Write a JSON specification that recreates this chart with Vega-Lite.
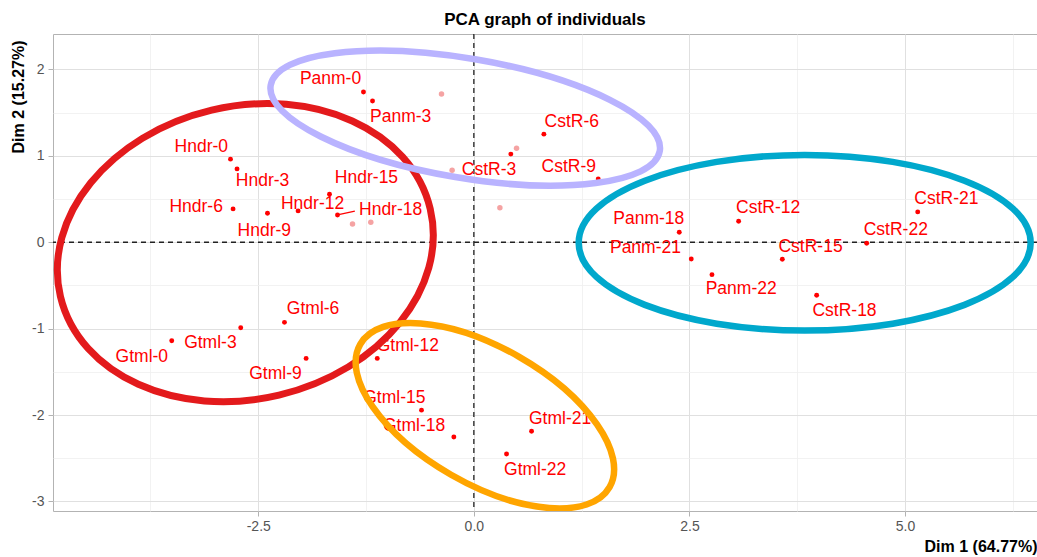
{
  "$schema": "https://vega.github.io/schema/vega-lite/v6.json",
  "width": 984,
  "height": 477,
  "autosize": {"type": "none"},
  "padding": {"left": 53, "top": 34, "right": 0, "bottom": 46},
  "background": "#FFFFFF",
  "title": {"text": "PCA graph of individuals", "fontSize": 17, "font": "Liberation Sans", "fontWeight": "bold", "color": "#000000", "anchor": "middle", "frame": "group", "baseline": "bottom", "offset": 8, "dy": 21},
  "config": {
    "font": "Liberation Sans",
    "view": {"stroke": "#B3B3B3", "strokeWidth": 1},
    "axis": {"domain": false, "labelFont": "Liberation Sans", "labelFontSize": 14, "labelColor": "#555555", "tickColor": "#B3B3B3", "tickSize": 5, "labelPadding": 3, "titleFont": "Liberation Sans", "titleFontSize": 16, "titleFontWeight": "bold", "titleColor": "#000000"}
  },
  "datasets": {
    "ind": [
      {"name": "Panm-0", "x": -1.28, "y": 1.738, "lx": -1.662, "ly": 1.889},
      {"name": "Panm-3", "x": -1.175, "y": 1.634, "lx": -0.849, "ly": 1.455},
      {"name": "Hndr-0", "x": -2.822, "y": 0.962, "lx": -3.16, "ly": 1.10},
      {"name": "Hndr-3", "x": -2.746, "y": 0.849, "lx": -2.45, "ly": 0.71},
      {"name": "Hndr-6", "x": -2.792, "y": 0.386, "lx": -3.22, "ly": 0.41},
      {"name": "Hndr-9", "x": -2.393, "y": 0.336, "lx": -2.43, "ly": 0.13},
      {"name": "Hndr-12", "x": -2.038, "y": 0.363, "lx": -1.87, "ly": 0.44},
      {"name": "Hndr-15", "x": -1.674, "y": 0.556, "lx": -1.245, "ly": 0.74},
      {"name": "Hndr-18", "x": -1.581, "y": 0.316, "lx": -0.965, "ly": 0.374},
      {"name": "CstR-3", "x": 0.429, "y": 1.02, "lx": 0.176, "ly": 0.838},
      {"name": "CstR-6", "x": 0.812, "y": 1.251, "lx": 1.135, "ly": 1.397},
      {"name": "CstR-9", "x": 1.442, "y": 0.733, "lx": 1.10, "ly": 0.869},
      {"name": "CstR-12", "x": 3.07, "y": 0.243, "lx": 3.413, "ly": 0.394},
      {"name": "CstR-15", "x": 3.577, "y": -0.197, "lx": 3.904, "ly": -0.051},
      {"name": "CstR-18", "x": 3.975, "y": -0.614, "lx": 4.298, "ly": -0.796},
      {"name": "CstR-21", "x": 5.147, "y": 0.351, "lx": 5.479, "ly": 0.498},
      {"name": "CstR-22", "x": 4.555, "y": -0.012, "lx": 4.893, "ly": 0.143},
      {"name": "Panm-18", "x": 2.382, "y": 0.116, "lx": 2.028, "ly": 0.27},
      {"name": "Panm-21", "x": 2.521, "y": -0.194, "lx": 1.99, "ly": -0.07},
      {"name": "Panm-22", "x": 2.761, "y": -0.375, "lx": 3.10, "ly": -0.545},
      {"name": "Gtml-0", "x": -3.503, "y": -1.14, "lx": -3.85, "ly": -1.325},
      {"name": "Gtml-3", "x": -2.703, "y": -0.99, "lx": -3.055, "ly": -1.17},
      {"name": "Gtml-6", "x": -2.196, "y": -0.927, "lx": -1.864, "ly": -0.773},
      {"name": "Gtml-9", "x": -1.945, "y": -1.344, "lx": -2.30, "ly": -1.526},
      {"name": "Gtml-12", "x": -1.12, "y": -1.344, "lx": -0.766, "ly": -1.20},
      {"name": "Gtml-15", "x": -0.607, "y": -1.943, "lx": -0.922, "ly": -1.808},
      {"name": "Gtml-18", "x": -0.232, "y": -2.253, "lx": -0.693, "ly": -2.129},
      {"name": "Gtml-21", "x": 0.669, "y": -2.187, "lx": 1.0, "ly": -2.04},
      {"name": "Gtml-22", "x": 0.379, "y": -2.45, "lx": 0.711, "ly": -2.63}
    ],
    "sup": [
      {"x": -1.407, "y": 0.212},
      {"x": -1.195, "y": 0.232},
      {"x": -0.375, "y": 1.715},
      {"x": -0.252, "y": 0.834},
      {"x": 0.302, "y": 0.40},
      {"x": 0.495, "y": 1.089}
    ],
    "seg": [
      {"name": "Hndr-18", "x": -1.581, "y": 0.316, "x2": -1.38, "y2": 0.36}
    ],
    "zero": [{"v": 0}],
    "ellipses": [
      {"cluster": 1, "cx": -2.65, "cy": -0.12},
      {"cluster": 2, "cx": -0.10, "cy": 1.436},
      {"cluster": 3, "cx": 3.836, "cy": -0.006},
      {"cluster": 4, "cx": 0.128, "cy": -2.007}
    ]
  },
  "layer": [
    {
      "data": {"name": "zero"},
      "mark": {"type": "rule", "color": "#222222", "strokeWidth": 1.3, "strokeDash": [5, 4]},
      "encoding": {
        "x": {"field": "v", "type": "quantitative", "scale": {"domain": [-4.88, 6.53], "nice": false, "zero": false},
          "axis": {
            "values": [-3.75, -2.5, -1.25, 0, 1.25, 2.5, 3.75, 5, 6.25],
            "labelExpr": "datum.value % 2.5 === 0 ? replace(format(datum.value, '.1f'), '\u2212', '-') : ''",
            "grid": true,
            "gridColor": {"condition": {"test": "datum.value % 2.5 === 0", "value": "#E0E0E0"}, "value": "#EFEFEF"},
            "gridWidth": {"condition": {"test": "datum.value % 2.5 === 0", "value": 1}, "value": 0.8},
            "tickOpacity": {"condition": {"test": "datum.value % 2.5 === 0", "value": 1}, "value": 0},
            "title": "Dim 1 (64.77%)",
            "titleAlign": "right", "titleBaseline": "middle", "titleX": 984, "titleY": 35
          }
        }
      }
    },
    {
      "data": {"name": "zero"},
      "mark": {"type": "rule", "color": "#222222", "strokeWidth": 1.3, "strokeDash": [5, 4]},
      "encoding": {
        "y": {"field": "v", "type": "quantitative", "scale": {"domain": [-3.11, 2.41], "nice": false, "zero": false},
          "axis": {
            "values": [-3, -2.5, -2, -1.5, -1, -0.5, 0, 0.5, 1, 1.5, 2],
            "labelExpr": "datum.value % 1 === 0 ? '' + datum.value : ''",
            "grid": true,
            "gridColor": {"condition": {"test": "datum.value % 1 === 0", "value": "#E0E0E0"}, "value": "#EFEFEF"},
            "gridWidth": {"condition": {"test": "datum.value % 1 === 0", "value": 1}, "value": 0.8},
            "tickOpacity": {"condition": {"test": "datum.value % 1 === 0", "value": 1}, "value": 0},
            "labelPadding": 4,
            "title": "Dim 2 (15.27%)",
            "titleAngle": -90, "titleAlign": "right", "titleBaseline": "middle", "titleX": -35, "titleY": 6
          }
        }
      }
    },
    {
      "data": {"name": "sup"},
      "mark": {"type": "circle", "color": "#F5A3A3", "opacity": 1, "size": 30},
      "encoding": {
        "x": {"field": "x", "type": "quantitative", "scale": {"domain": [-4.88, 6.53], "nice": false, "zero": false}},
        "y": {"field": "y", "type": "quantitative", "scale": {"domain": [-3.11, 2.41], "nice": false, "zero": false}}
      }
    },
    {
      "data": {"name": "seg"},
      "mark": {"type": "rule", "color": "#FF0000", "strokeWidth": 1.2},
      "encoding": {
        "x": {"field": "x", "type": "quantitative", "scale": {"domain": [-4.88, 6.53], "nice": false, "zero": false}},
        "y": {"field": "y", "type": "quantitative", "scale": {"domain": [-3.11, 2.41], "nice": false, "zero": false}},
        "x2": {"field": "x2"},
        "y2": {"field": "y2"}
      }
    },
    {
      "data": {"name": "ind"},
      "mark": {"type": "circle", "color": "#FF0000", "opacity": 1, "size": 24},
      "encoding": {
        "x": {"field": "x", "type": "quantitative", "scale": {"domain": [-4.88, 6.53], "nice": false, "zero": false}},
        "y": {"field": "y", "type": "quantitative", "scale": {"domain": [-3.11, 2.41], "nice": false, "zero": false}}
      }
    },
    {
      "data": {"name": "ind"},
      "mark": {"type": "text", "color": "#FF0000", "fontSize": 17.5, "font": "Liberation Sans", "align": "center", "baseline": "middle"},
      "encoding": {
        "x": {"field": "lx", "type": "quantitative", "scale": {"domain": [-4.88, 6.53], "nice": false, "zero": false}},
        "y": {"field": "ly", "type": "quantitative", "scale": {"domain": [-3.11, 2.41], "nice": false, "zero": false}},
        "text": {"field": "name"}
      }
    },
    {
      "data": {"name": "ellipses"},
      "transform": [{"filter": "datum.cluster === 1"}],
      "mark": {"type": "point", "clip": true, "filled": false, "opacity": 1, "stroke": "#E31A1C", "strokeWidth": 7, "size": 144400, "angle": 346.7,
        "shape": "M -1 0 C -1 -0.4255 -0.5523 -0.7705 0 -0.7705 C 0.5523 -0.7705 1 -0.4255 1 0 C 1 0.4255 0.5523 0.7705 0 0.7705 C -0.5523 0.7705 -1 0.4255 -1 0 Z"},
      "encoding": {
        "x": {"field": "cx", "type": "quantitative", "scale": {"domain": [-4.88, 6.53], "nice": false, "zero": false}},
        "y": {"field": "cy", "type": "quantitative", "scale": {"domain": [-3.11, 2.41], "nice": false, "zero": false}}
      }
    },
    {
      "data": {"name": "ellipses"},
      "transform": [{"filter": "datum.cluster === 2"}],
      "mark": {"type": "point", "clip": true, "filled": false, "opacity": 1, "stroke": "#B9B3FF", "strokeWidth": 6.5, "size": 155709, "angle": 9.6,
        "shape": "M -1 0 C -1 -0.1671 -0.5523 -0.3026 0 -0.3026 C 0.5523 -0.3026 1 -0.1671 1 0 C 1 0.1671 0.5523 0.3026 0 0.3026 C -0.5523 0.3026 -1 0.1671 -1 0 Z"},
      "encoding": {
        "x": {"field": "cx", "type": "quantitative", "scale": {"domain": [-4.88, 6.53], "nice": false, "zero": false}},
        "y": {"field": "cy", "type": "quantitative", "scale": {"domain": [-3.11, 2.41], "nice": false, "zero": false}}
      }
    },
    {
      "data": {"name": "ellipses"},
      "transform": [{"filter": "datum.cluster === 3"}],
      "mark": {"type": "point", "clip": true, "filled": false, "opacity": 1, "stroke": "#00A8CC", "strokeWidth": 6.5, "size": 204304, "angle": 0,
        "shape": "M -1 0 C -1 -0.2146 -0.5523 -0.3885 0 -0.3885 C 0.5523 -0.3885 1 -0.2146 1 0 C 1 0.2146 0.5523 0.3885 0 0.3885 C -0.5523 0.3885 -1 0.2146 -1 0 Z"},
      "encoding": {
        "x": {"field": "cx", "type": "quantitative", "scale": {"domain": [-4.88, 6.53], "nice": false, "zero": false}},
        "y": {"field": "cy", "type": "quantitative", "scale": {"domain": [-3.11, 2.41], "nice": false, "zero": false}}
      }
    },
    {
      "data": {"name": "ellipses"},
      "transform": [{"filter": "datum.cluster === 4"}],
      "mark": {"type": "point", "clip": true, "filled": false, "opacity": 1, "stroke": "#FFA500", "strokeWidth": 6.5, "size": 82599, "angle": 29.8,
        "shape": "M -1 0 C -1 -0.2617 -0.5523 -0.4739 0 -0.4739 C 0.5523 -0.4739 1 -0.2617 1 0 C 1 0.2617 0.5523 0.4739 0 0.4739 C -0.5523 0.4739 -1 0.2617 -1 0 Z"},
      "encoding": {
        "x": {"field": "cx", "type": "quantitative", "scale": {"domain": [-4.88, 6.53], "nice": false, "zero": false}},
        "y": {"field": "cy", "type": "quantitative", "scale": {"domain": [-3.11, 2.41], "nice": false, "zero": false}}
      }
    }
  ]
}
